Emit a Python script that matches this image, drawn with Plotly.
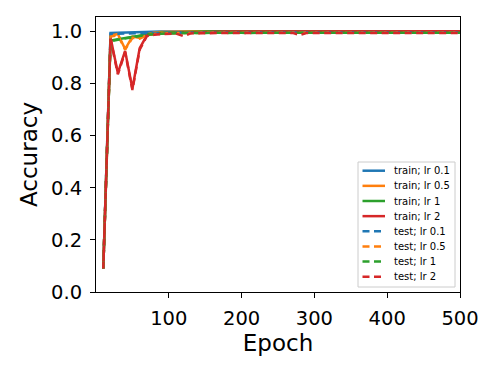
import plotly.graph_objects as go

epochs = list(range(10, 510, 10))

train_lr01 = [0.09, 0.994, 0.995, 0.996, 0.997, 0.997, 0.998, 0.998, 0.999, 0.999,
              0.999, 0.999, 1.0, 1.0, 1.0, 1.0, 1.0, 1.0, 1.0, 1.0,
              1.0, 1.0, 1.0, 1.0, 1.0, 1.0, 1.0, 1.0, 1.0, 1.0,
              1.0, 1.0, 1.0, 1.0, 1.0, 1.0, 1.0, 1.0, 1.0, 1.0,
              1.0, 1.0, 1.0, 1.0, 1.0, 1.0, 1.0, 1.0, 1.0, 1.0]
train_lr05 = [0.09, 0.983, 0.99, 0.932, 0.98, 0.975, 0.988, 0.996, 0.997, 0.998,
              0.999, 0.999, 0.999, 1.0, 1.0, 1.0, 1.0, 1.0, 1.0, 1.0,
              1.0, 1.0, 1.0, 1.0, 1.0, 1.0, 1.0, 1.0, 1.0, 1.0,
              1.0, 1.0, 1.0, 1.0, 1.0, 1.0, 1.0, 1.0, 1.0, 1.0,
              1.0, 1.0, 1.0, 1.0, 1.0, 1.0, 1.0, 1.0, 1.0, 1.0]
train_lr1 = [0.09, 0.965, 0.97, 0.975, 0.98, 0.985, 0.99, 0.993, 0.995, 0.996,
             0.997, 0.998, 0.998, 0.999, 0.999, 1.0, 1.0, 1.0, 1.0, 1.0,
             1.0, 1.0, 1.0, 1.0, 1.0, 1.0, 1.0, 1.0, 1.0, 1.0,
             1.0, 1.0, 1.0, 1.0, 1.0, 1.0, 1.0, 1.0, 1.0, 1.0,
             1.0, 1.0, 1.0, 1.0, 1.0, 1.0, 1.0, 1.0, 1.0, 1.0]
train_lr2 = [0.09, 0.975, 0.84, 0.925, 0.78, 0.935, 0.985, 0.99, 0.992, 0.993,
             0.994, 0.995, 0.996, 0.997, 0.997, 0.998, 0.998, 0.999, 0.999, 0.999,
             0.999, 1.0, 1.0, 1.0, 1.0, 1.0, 1.0, 1.0, 1.0, 1.0,
             1.0, 1.0, 1.0, 1.0, 1.0, 1.0, 1.0, 1.0, 1.0, 1.0,
             1.0, 1.0, 1.0, 1.0, 1.0, 1.0, 1.0, 1.0, 1.0, 1.0]

test_lr01 = [0.09, 0.99, 0.991, 0.992, 0.993, 0.993, 0.994, 0.994, 0.994, 0.995,
             0.995, 0.994, 0.995, 0.995, 0.995, 0.995, 0.995, 0.996, 0.995, 0.996,
             0.996, 0.995, 0.996, 0.996, 0.996, 0.996, 0.995, 0.996, 0.996, 0.996,
             0.996, 0.996, 0.996, 0.995, 0.996, 0.996, 0.996, 0.996, 0.996, 0.996,
             0.996, 0.996, 0.995, 0.996, 0.996, 0.996, 0.996, 0.996, 0.996, 0.996]
test_lr05 = [0.09, 0.98, 0.985, 0.93, 0.975, 0.972, 0.985, 0.99, 0.992, 0.993,
             0.993, 0.994, 0.994, 0.994, 0.995, 0.995, 0.995, 0.994, 0.995, 0.995,
             0.995, 0.995, 0.996, 0.995, 0.995, 0.995, 0.996, 0.995, 0.995, 0.996,
             0.995, 0.995, 0.996, 0.995, 0.995, 0.996, 0.995, 0.995, 0.995, 0.996,
             0.995, 0.995, 0.995, 0.996, 0.995, 0.995, 0.995, 0.996, 0.995, 0.995]
test_lr1 = [0.09, 0.962, 0.968, 0.972, 0.978, 0.982, 0.987, 0.99, 0.991, 0.992,
            0.993, 0.993, 0.994, 0.994, 0.994, 0.995, 0.995, 0.994, 0.995, 0.995,
            0.993, 0.995, 0.995, 0.995, 0.995, 0.995, 0.994, 0.995, 0.995, 0.995,
            0.995, 0.995, 0.995, 0.995, 0.995, 0.994, 0.995, 0.995, 0.995, 0.995,
            0.995, 0.995, 0.995, 0.995, 0.995, 0.995, 0.995, 0.993, 0.995, 0.995]
test_lr2 = [0.09, 0.972, 0.835, 0.92, 0.775, 0.93, 0.982, 0.987, 0.989, 0.99,
            0.991, 0.982, 0.992, 0.993, 0.993, 0.993, 0.994, 0.994, 0.993, 0.994,
            0.994, 0.994, 0.995, 0.994, 0.994, 0.994, 0.994, 0.986, 0.994, 0.994,
            0.994, 0.995, 0.994, 0.994, 0.994, 0.994, 0.994, 0.994, 0.994, 0.994,
            0.994, 0.994, 0.994, 0.994, 0.994, 0.994, 0.994, 0.994, 0.994, 0.994]

x_ticks = [100, 200, 300, 400, 500]
y_ticks = [0.0, 0.2, 0.4, 0.6, 0.8, 1.0]
y_tick_labels = ["0.0", "0.2", "0.4", "0.6", "0.8", "1.0"]

colors = ["#1f77b4", "#ff7f0e", "#2ca02c", "#d62728"]
lrs = ["0.1", "0.5", "1", "2"]
train = [train_lr01, train_lr05, train_lr1, train_lr2]
test = [test_lr01, test_lr05, test_lr1, test_lr2]

LW = 2.5
DASH = "7px,4.5px"
font_family = "DejaVu Sans"

fig = go.Figure()
entries = []
for c, lr, ys in zip(colors, lrs, train):
    fig.add_trace(go.Scatter(x=epochs, y=ys, mode="lines", name=f"train; lr {lr}",
                             line=dict(color=c, width=LW)))
    entries.append((f"train; lr {lr}", c, "solid"))
for c, lr, ys in zip(colors, lrs, test):
    fig.add_trace(go.Scatter(x=epochs, y=ys, mode="lines", name=f"test; lr {lr}",
                             line=dict(color=c, width=LW, dash=DASH)))
    entries.append((f"test; lr {lr}", c, DASH))

# Legend drawn in paper coordinates (plot area: 364 x 275 px)
PW, PH = 364.0, 275.0
def px_x(p):
    return p / PW
def px_y(p):
    return 1 - p / PH

shapes = [dict(type="rect", xref="paper", yref="paper",
               x0=px_x(262), x1=px_x(359), y0=px_y(270), y1=px_y(145),
               line=dict(color="#cccccc", width=1), fillcolor="rgba(255,255,255,0.8)",
               layer="above")]
annotations = []
for i, (name, c, dash) in enumerate(entries):
    yc = px_y(153.7 + 15.15 * i)
    shapes.append(dict(type="line", xref="paper", yref="paper",
                       x0=px_x(266.5), x1=px_x(289), y0=yc, y1=yc,
                       line=dict(color=c, width=LW, dash=dash), layer="above"))
    annotations.append(dict(xref="paper", yref="paper", x=px_x(296), y=yc,
                            text=name, showarrow=False, xanchor="left", yanchor="middle",
                            font=dict(size=10, family=font_family, color="black")))

fig.update_layout(
    width=490, height=366,
    margin=dict(l=88, r=38, t=9, b=82, autoexpand=False),
    paper_bgcolor="white", plot_bgcolor="white",
    font=dict(family=font_family, color="black"),
    showlegend=False,
    shapes=shapes, annotations=annotations,
    xaxis=dict(range=[0, 500], tickvals=x_ticks, ticks="outside", ticklen=5,
               tickwidth=1, tickcolor="black", showgrid=False, zeroline=False,
               showline=True, linecolor="black", linewidth=1, mirror=True,
               automargin=False, ticklabelstandoff=4,
               tickfont=dict(size=19.5), title=dict(text="Epoch", font=dict(size=23), standoff=2)),
    yaxis=dict(range=[0, 1.055], tickvals=y_ticks, ticktext=y_tick_labels, ticks="outside",
               ticklen=5, tickwidth=1, tickcolor="black", showgrid=False, zeroline=False,
               showline=True, linecolor="black", linewidth=1, mirror=True,
               automargin=False, ticklabelstandoff=4,
               tickfont=dict(size=19.5), title=dict(text="Accuracy", font=dict(size=23), standoff=7)),
)

fig.write_html("out.html")
